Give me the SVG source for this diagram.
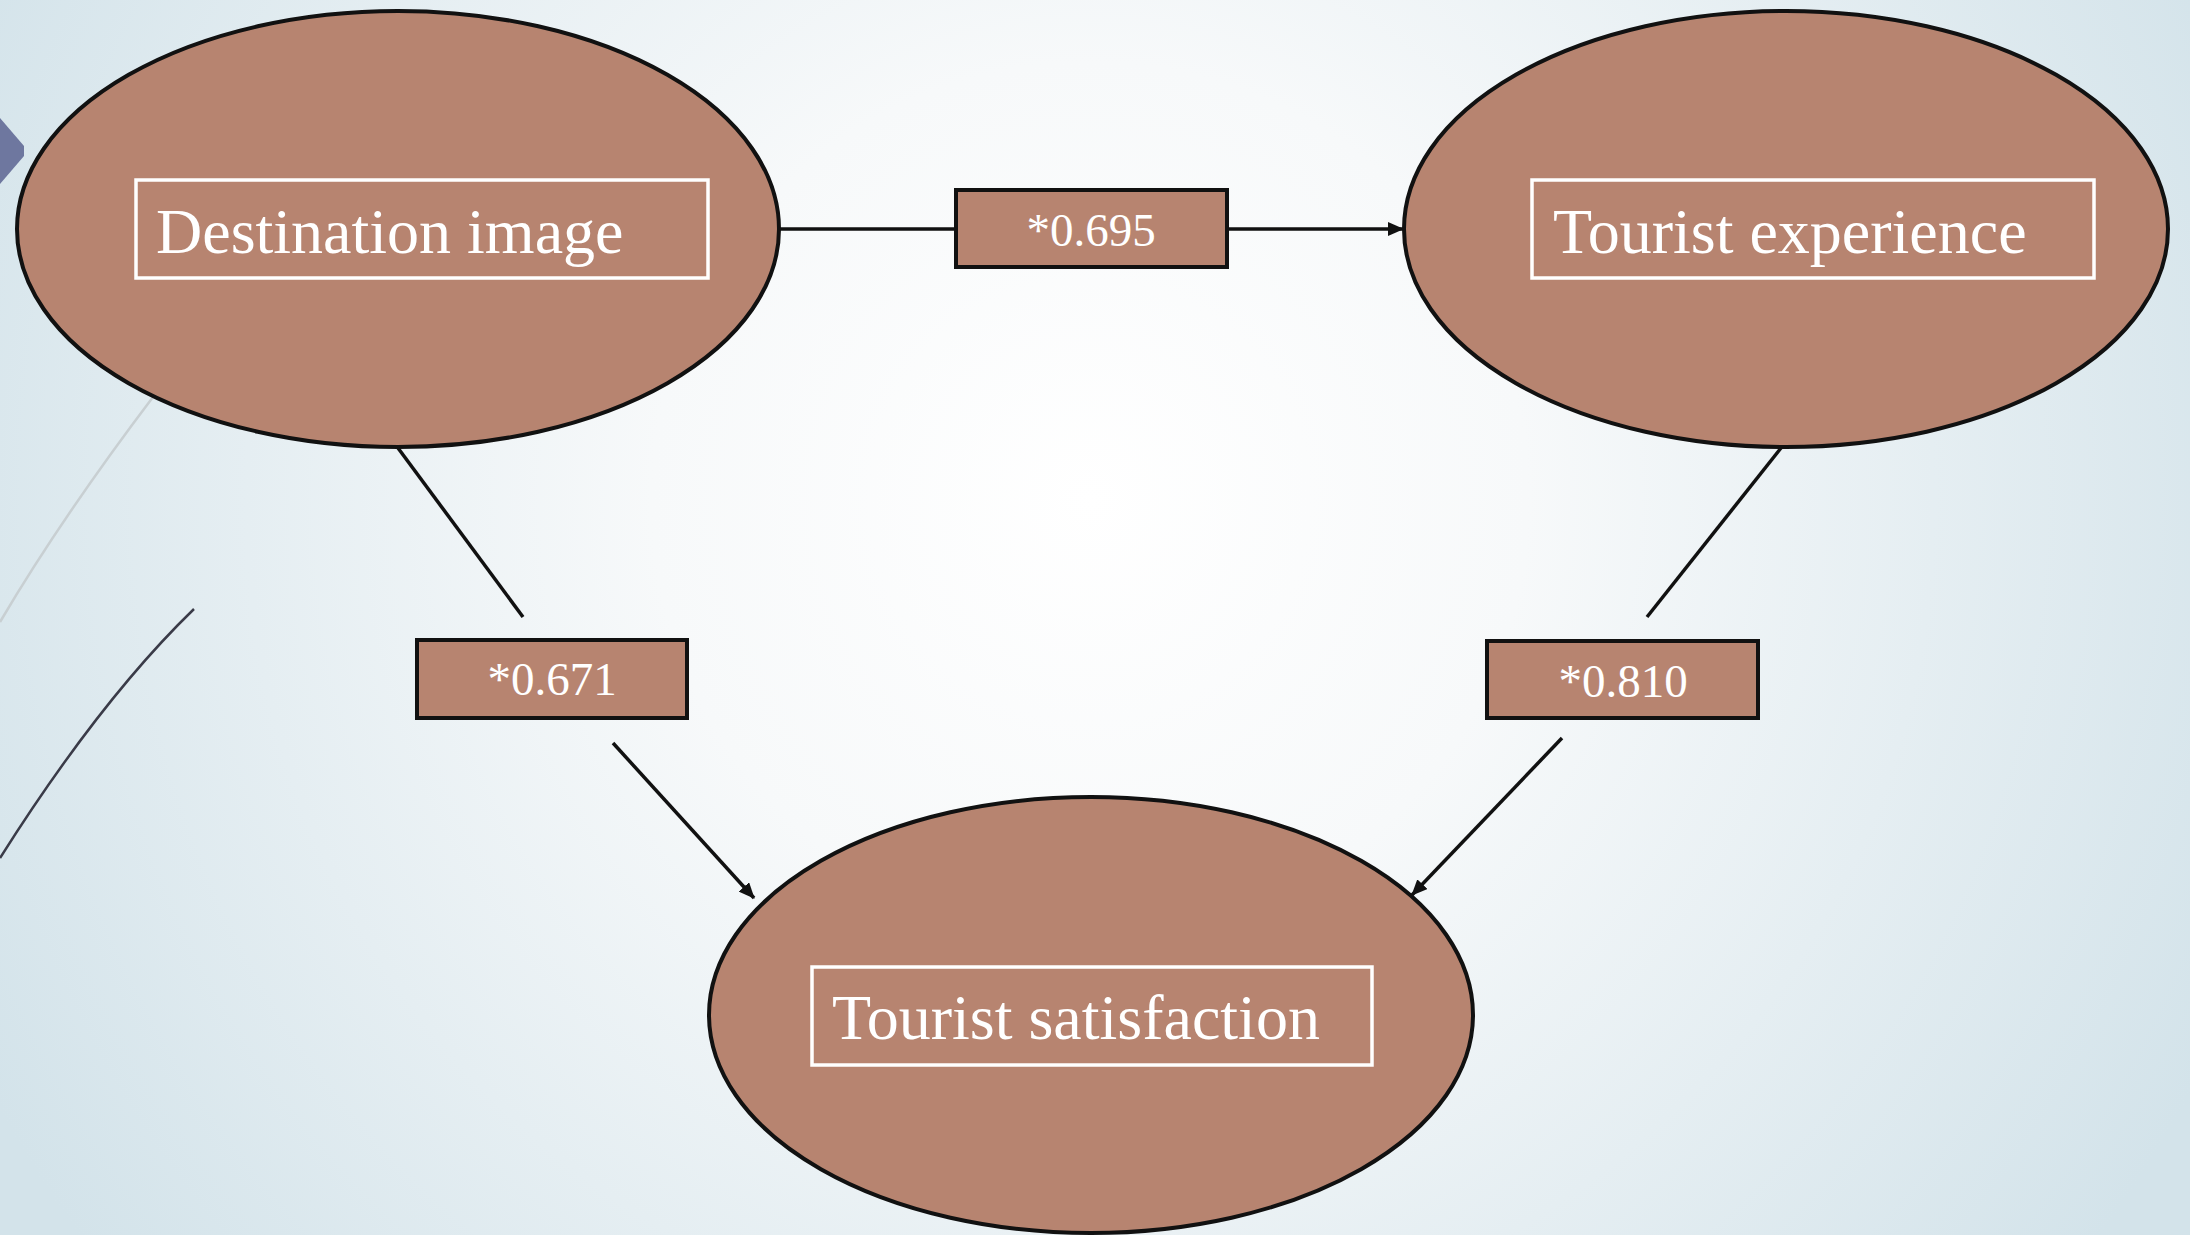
<svg xmlns="http://www.w3.org/2000/svg" width="2190" height="1235" viewBox="0 0 2190 1235">
<defs>
<radialGradient id="bg" cx="1090" cy="500" r="1250" gradientUnits="userSpaceOnUse">
<stop offset="0" stop-color="#ffffff"/>
<stop offset="0.35" stop-color="#f7f9fa"/>
<stop offset="1" stop-color="#d3e3ea"/>
</radialGradient>
<marker id="arr" viewBox="0 0 16 14" refX="15" refY="7" markerWidth="16" markerHeight="14" markerUnits="userSpaceOnUse" orient="auto">
<path d="M0,0 L16,7 L0,14 Z" fill="#111"/>
</marker>
<style>
.node ellipse{fill:#b78470;stroke:#111;stroke-width:4}
.tbox{fill:none;stroke:#fff;stroke-width:3.5}
.lbl{fill:#b78470;stroke:#111;stroke-width:4}
.ntext{font-family:"Liberation Serif","Times New Roman",serif;font-size:64px;fill:#fff}
.ltext{font-family:"Liberation Serif","Times New Roman",serif;font-size:47px;fill:#fff;text-anchor:middle}
.conn line{stroke:#111;stroke-width:3.5;fill:none}
</style>
</defs>
<rect x="0" y="0" width="2190" height="1235" fill="url(#bg)"/>
<g id="decor">
<path d="M153,397 Q60,520 0,622" fill="none" stroke="#c8cfd2" stroke-width="2.5"/>
<path d="M194,609 Q100,700 0,858" fill="none" stroke="#3a3b48" stroke-width="2.5"/>
<polygon points="0,118 24,146 24,156 0,184" fill="#6e779f"/>
</g>
<g id="connectors" class="conn">
<line x1="779" y1="229" x2="956" y2="229"/>
<line x1="1227" y1="229" x2="1403" y2="229" marker-end="url(#arr)"/>
<line x1="398" y1="448" x2="523" y2="617"/>
<line x1="613" y1="743" x2="754" y2="898" marker-end="url(#arr)"/>
<line x1="1781" y1="448" x2="1647" y2="617"/>
<line x1="1562" y1="738" x2="1412" y2="895" marker-end="url(#arr)"/>
</g>
<g id="node-destination-image" class="node">
<ellipse cx="398" cy="229" rx="381" ry="218"/>
<rect class="tbox" x="136" y="180" width="572" height="98"/>
<text class="ntext" x="156" y="253">Destination image</text>
</g>
<g id="node-tourist-experience" class="node">
<ellipse cx="1786" cy="229" rx="382" ry="218"/>
<rect class="tbox" x="1532" y="180" width="562" height="98"/>
<text class="ntext" x="1553" y="253">Tourist experience</text>
</g>
<g id="node-tourist-satisfaction" class="node">
<ellipse cx="1091" cy="1015" rx="382" ry="218"/>
<rect class="tbox" x="812" y="967" width="560" height="98"/>
<text class="ntext" x="832" y="1039">Tourist satisfaction</text>
</g>
<g id="label-0695">
<rect class="lbl" x="956" y="190" width="271" height="77"/>
<text class="ltext" x="1091" y="246">*0.695</text>
</g>
<g id="label-0671">
<rect class="lbl" x="417" y="640" width="270" height="78"/>
<text class="ltext" x="552" y="695">*0.671</text>
</g>
<g id="label-0810">
<rect class="lbl" x="1487" y="641" width="271" height="77"/>
<text class="ltext" x="1623" y="697">*0.810</text>
</g>
</svg>
